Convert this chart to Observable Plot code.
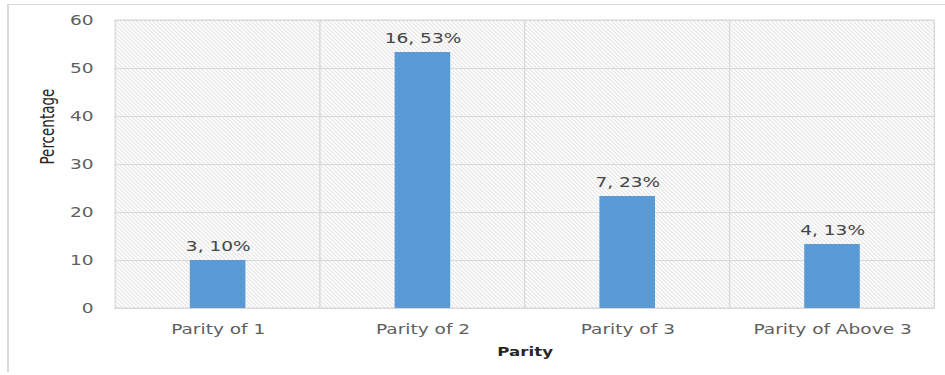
<!DOCTYPE html>
<html>
<head>
<meta charset="utf-8">
<script src="https://cdn.jsdelivr.net/npm/d3@7"></script>
<script src="https://cdn.jsdelivr.net/npm/@observablehq/plot@0.6"></script>
<style>
  html, body { margin: 0; padding: 0; background: #fff; }
  #wrap { position: relative; width: 945px; height: 375px; overflow: hidden; }
  #border { position: absolute; left: 7px; top: 4px; width: 945px; height: 368px;
            border-left: 2px solid #d9d9d9; border-top: 1.5px solid #d9d9d9; box-sizing: border-box; }
  #chart { position: absolute; left: 0; top: 0; transform: scaleX(1.28); transform-origin: 0 0; }
  #chart svg { display: block; }
</style>
</head>
<body>
<div id="wrap"><div id="border"></div><div id="chart"></div></div>
<script>
const categories = ["Parity of 1", "Parity of 2", "Parity of 3", "Parity of Above 3"];
const counts = [3, 16, 7, 4];
const percentages = [10, 53.33, 23.33, 13.33];
const labels = ["3, 10%", "16, 53%", "7, 23%", "4, 13%"];
const yTicks = [0, 10, 20, 30, 40, 50, 60];

const data = categories.map((c, i) => ({category: c, count: counts[i], pct: percentages[i], label: labels[i]}));

// the reference is horizontally stretched; draw narrower and stretch the whole SVG
const SX = 1.28;
const W = 945 / SX;
const barInset = 74.6 / SX;

const chart = Plot.plot({
  width: W,
  height: 375,
  marginLeft: 114 / SX,
  marginRight: 10 / SX,
  marginTop: 20,
  marginBottom: 67,
  style: {fontFamily: "'DejaVu Sans', Verdana, sans-serif", fontSize: "14.5px", color: "#5f5f5f", background: "transparent", overflow: "visible"},
  x: {domain: categories, padding: 0, tickSize: 0, tickPadding: 15, label: null},
  y: {domain: [0, 60], ticks: yTicks, tickSize: 0, tickPadding: 21 / SX, label: null},
  marks: [
    Plot.cell(categories, {x: d => d, fill: "url(#hatch)", stroke: "#d9d9d9", strokeWidth: 1}),
    Plot.ruleY(yTicks, {stroke: "#d9d9d9", strokeWidth: 1}),
    Plot.barY(data, {x: "category", y: "pct", fill: "#5b9bd5", insetLeft: barInset, insetRight: barInset}),
    Plot.text(data, {x: "category", y: "pct", text: "label", lineAnchor: "middle", dy: -14, fill: "#454545", fontSize: 14.5}),
    Plot.text(["Percentage"], {frameAnchor: "left", rotate: -90, dx: -67 / SX, text: d => d, fill: "#262626",
      fontFamily: "'DejaVu Sans Condensed', 'Liberation Sans Narrow', sans-serif", fontSize: 15}),
    Plot.text(["Parity"], {frameAnchor: "bottom", dy: 43.5, text: d => d, lineAnchor: "middle", fill: "#262626",
      fontWeight: "bold", fontSize: 13})
  ]
});

// hatch pattern definition
const ns = "http://www.w3.org/2000/svg";
const defs = document.createElementNS(ns, "defs");
const pat = document.createElementNS(ns, "pattern");
pat.setAttribute("id", "hatch");
pat.setAttribute("patternUnits", "userSpaceOnUse");
pat.setAttribute("width", "3.2");
pat.setAttribute("height", "4");
const bg = document.createElementNS(ns, "rect");
bg.setAttribute("width", "3.2"); bg.setAttribute("height", "4"); bg.setAttribute("fill", "#ffffff");
const ln = document.createElementNS(ns, "path");
ln.setAttribute("d", "M-0.8,-1 L4,5 M-0.8,3 L0.8,5 M2.4,-1 L4,1");
ln.setAttribute("stroke", "#e2e2e2");
ln.setAttribute("stroke-width", "0.9");
pat.appendChild(bg); pat.appendChild(ln);
defs.appendChild(pat);
chart.insertBefore(defs, chart.firstChild);

document.getElementById("chart").appendChild(chart);
</script>
</body>
</html>
